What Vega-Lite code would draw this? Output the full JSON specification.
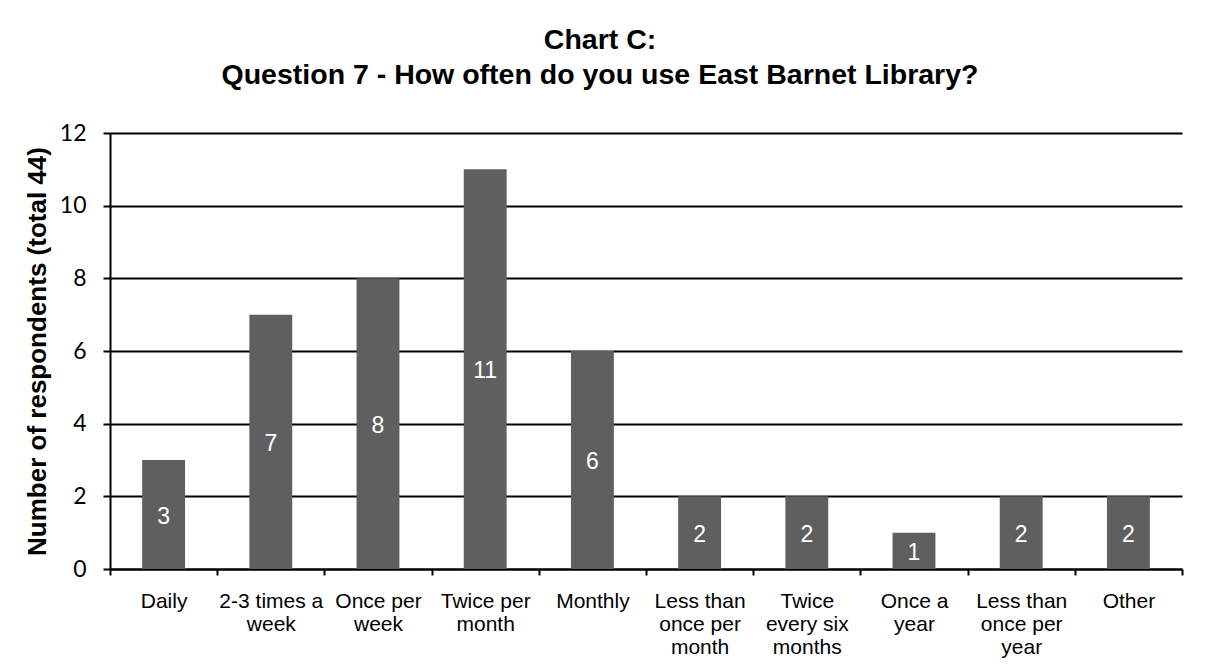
{
  "$schema": "https://vega.github.io/schema/vega-lite/v6.json",
  "autosize": "none",
  "width": 1072,
  "height": 436,
  "padding": {"left": 110, "top": 133, "right": 25, "bottom": 95},
  "background": "white",
  "title": {
    "text": ["Chart C:", "Question 7 - How often do you use East Barnet Library?"],
    "font": "Liberation Sans",
    "fontSize": 28.5,
    "fontWeight": "bold",
    "color": "black",
    "lineHeight": 35,
    "anchor": "middle",
    "dx": -46,
    "offset": 33
  },
  "data": {
    "values": [
      {"category": "Daily", "count": 3},
      {"category": "2-3 times a|week", "count": 7},
      {"category": "Once per|week", "count": 8},
      {"category": "Twice per|month", "count": 11},
      {"category": "Monthly", "count": 6},
      {"category": "Less than|once per|month", "count": 2},
      {"category": "Twice|every six|months", "count": 2},
      {"category": "Once a|year", "count": 1},
      {"category": "Less than|once per|year", "count": 2},
      {"category": "Other", "count": 2}
    ]
  },
  "encoding": {
    "x": {
      "field": "category",
      "type": "nominal",
      "sort": null,
      "scale": {"paddingInner": 0, "paddingOuter": 0},
      "axis": {
        "title": null,
        "labelAngle": 0,
        "labelExpr": "isValid(datum.value) ? split(datum.value, '|') : ''",
        "labelFont": "Liberation Sans",
        "labelFontSize": 21,
        "labelLineHeight": 23,
        "labelColor": "black",
        "labelPadding": 15,
        "labelBaseline": "top",
        "ticks": true,
        "tickBand": "extent",
        "tickSize": 6,
        "tickWidth": 2,
        "tickColor": "black",
        "domainColor": "black",
        "domainWidth": 2,
        "grid": false
      }
    }
  },
  "layer": [
    {
      "mark": {"type": "bar", "color": "#5f5f5f", "width": {"band": 0.4}},
      "encoding": {
        "y": {
          "field": "count",
          "type": "quantitative",
          "scale": {"domain": [0, 12]},
          "axis": {
            "title": "Number of respondents (total 44)",
            "titleFont": "Liberation Sans",
            "titleFontSize": 26,
            "titleFontWeight": "bold",
            "titleColor": "black",
            "titlePadding": 9,
            "values": [0, 2, 4, 6, 8, 10, 12],
            "labelFont": "Lato",
            "labelFontSize": 23,
            "labelColor": "black",
            "labelPadding": 17,
            "ticks": true,
            "tickSize": 7,
            "tickWidth": 2,
            "tickColor": "black",
            "domainColor": "black",
            "domainWidth": 2,
            "grid": true,
            "gridColor": "black",
            "gridWidth": 2
          }
        }
      }
    },
    {
      "mark": {"type": "text", "color": "white", "font": "Liberation Sans", "fontSize": 23, "baseline": "middle", "align": "center", "dy": 2},
      "encoding": {
        "y": {
          "field": "count",
          "type": "quantitative",
          "scale": {"domain": [0, 24]},
          "axis": null
        },
        "text": {"field": "count", "type": "quantitative"}
      }
    }
  ],
  "resolve": {"scale": {"y": "independent"}},
  "config": {"view": {"stroke": null}}
}
